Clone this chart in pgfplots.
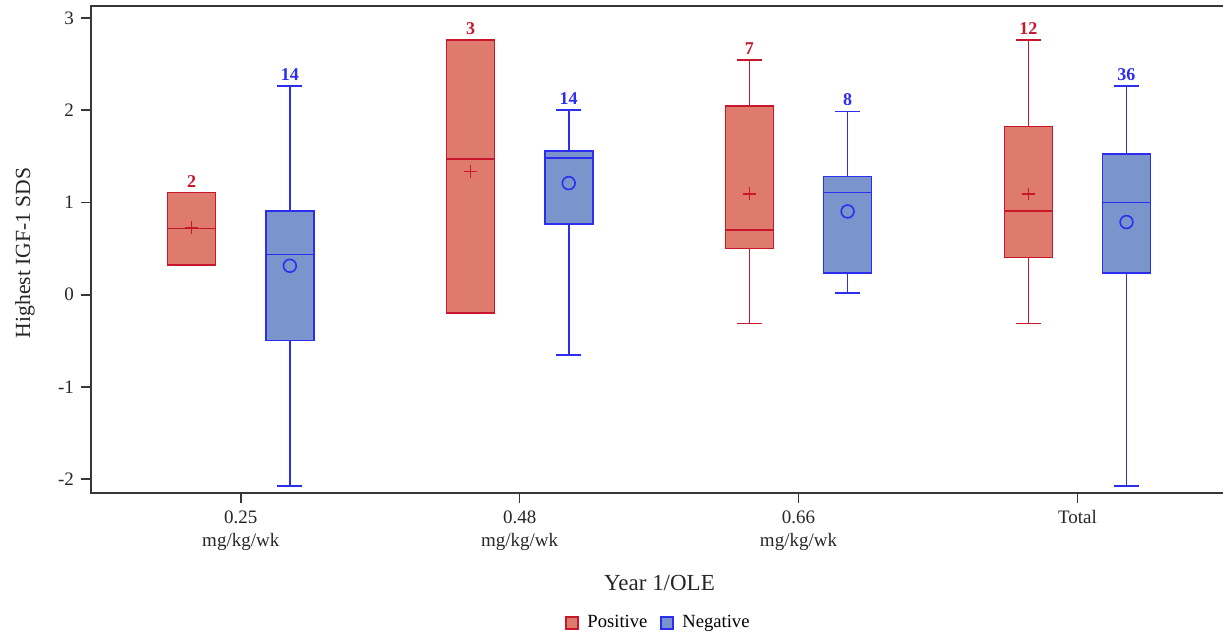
\documentclass[border=0pt]{standalone}
\usepackage{pgfplots}
\pgfplotsset{compat=1.18}
\usepgfplotslibrary{statistics}
\usepackage{fontspec}
\setmainfont{Liberation Serif}

\definecolor{posfill}{RGB}{222,123,109}
\definecolor{posline}{RGB}{200,22,44}
\definecolor{negfill}{RGB}{122,149,204}
\definecolor{negline}{RGB}{45,45,240}
\definecolor{axisgray}{RGB}{55,55,55}

\pgfplotsset{
  boxplot/draw direction=y,
  boxplot/box extend=0.172,
  boxplot/whisker extend=0.09,
  posbox/.style={draw=posline, fill=posfill, line width=0.8pt,
    boxplot/every average/.style={/tikz/mark=+, /tikz/mark size=3.2pt, /tikz/line width=0.6pt, /tikz/fill=none}},
  negbox/.style={draw=negline, fill=negfill, line width=0.8pt,
    boxplot/every average/.style={/tikz/mark=o, /tikz/mark size=3.2pt, /tikz/line width=0.6pt, /tikz/fill=none}},
}

\begin{document}
\begin{tikzpicture}
\path[use as bounding box] (-45.5pt,-71.85pt) rectangle (566pt,246.65pt);
\begin{axis}[
  at={(0pt,0pt)}, anchor=south west,
  scale only axis, width=568.5pt, height=243.8pt,
  xmin=-0.537, xmax=3.540, ymin=-2.152, ymax=3.133,
  axis line style={axisgray, line width=1pt},
  tick style={axisgray, line width=0.8pt},
  tick align=outside, tick pos=left, major tick length=5pt,
  xtick={0,1,2,3},
  xticklabels={{0.25\\mg/kg/wk},{0.48\\mg/kg/wk},{0.66\\mg/kg/wk},{Total}},
  xticklabel style={align=center, font=\fontsize{9.5}{12}\selectfont, text=black!85},
  ytick={-2,-1,0,1,2,3},
  yticklabels={-2,-1,0,1,2,3},
  yticklabel style={font=\fontsize{9.5}{11}\selectfont, text=black!85},
  xlabel={Year 1/OLE},
  xlabel style={at={(rel axis cs:0.5,-0.184)}, anchor=center, font=\fontsize{11.5}{13}\selectfont, text=black!85},
  ylabel={Highest IGF-1 SDS},
  ylabel style={at={(rel axis cs:-0.058,0.493)}, anchor=center, font=\fontsize{10.8}{13}\selectfont, text=black!85},
  legend columns=2,
  legend style={at={(rel axis cs:0.5,-0.266)}, anchor=center, draw=none, fill=none,
    font=\fontsize{9.3}{11}\selectfont, /tikz/every even column/.append style={column sep=4.5pt}},
  legend image code/.code={\draw[#1, line width=0.6pt] (0pt,-3pt) rectangle (6pt,3pt); \path (8.5pt,0pt);},
  clip=false,
]
% legend swatches
\addlegendimage{draw=posline, fill=posfill}
\addlegendentry{Positive}
\addlegendimage{draw=negline, fill=negfill}
\addlegendentry{Negative}

% 0.25 mg/kg/wk
\addplot[posbox, boxplot prepared={draw position=-0.176,
  lower whisker=0.323, lower quartile=0.323, median=0.716,
  upper quartile=1.107, upper whisker=1.107, average=0.73}] coordinates {};
\addplot[negbox, boxplot prepared={draw position=0.176,
  lower whisker=-2.07, lower quartile=-0.498, median=0.437,
  upper quartile=0.907, upper whisker=2.264, average=0.314}] coordinates {};

% 0.48 mg/kg/wk
\addplot[posbox, boxplot prepared={draw position=0.824,
  lower whisker=-0.20, lower quartile=-0.20, median=1.47,
  upper quartile=2.763, upper whisker=2.763, average=1.336}] coordinates {};
\addplot[negbox, boxplot prepared={draw position=1.176,
  lower whisker=-0.653, lower quartile=0.766, median=1.48,
  upper quartile=1.56, upper whisker=2.004, average=1.21}] coordinates {};

% 0.66 mg/kg/wk
\addplot[posbox, boxplot prepared={draw position=1.824,
  lower whisker=-0.311, lower quartile=0.502, median=0.704,
  upper quartile=2.048, upper whisker=2.546, average=1.094}] coordinates {};
\addplot[negbox, boxplot prepared={draw position=2.176,
  lower whisker=0.018, lower quartile=0.235, median=1.109,
  upper quartile=1.282, upper whisker=1.986, average=0.903}] coordinates {};

% Total
\addplot[posbox, boxplot prepared={draw position=2.824,
  lower whisker=-0.311, lower quartile=0.404, median=0.907,
  upper quartile=1.823, upper whisker=2.763, average=1.091}] coordinates {};
\addplot[negbox, boxplot prepared={draw position=3.176,
  lower whisker=-2.07, lower quartile=0.235, median=1.0,
  upper quartile=1.528, upper whisker=2.264, average=0.788}] coordinates {};

% group sizes above each box
\addplot[draw=none, nodes near coords, point meta=explicit symbolic,
  nodes near coords style={anchor=south, inner sep=0pt, yshift=2.5pt,
    font=\fontsize{9}{10}\selectfont\bfseries, text=posline}]
  coordinates {(-0.176,1.107)[2] (0.824,2.763)[3] (1.824,2.546)[7] (2.824,2.763)[12]};
\addplot[draw=none, nodes near coords, point meta=explicit symbolic,
  nodes near coords style={anchor=south, inner sep=0pt, yshift=2.5pt,
    font=\fontsize{9}{10}\selectfont\bfseries, text=negline}]
  coordinates {(0.176,2.264)[14] (1.176,2.004)[14] (2.176,1.986)[8] (3.176,2.264)[36]};
\end{axis}
\end{tikzpicture}
\end{document}
